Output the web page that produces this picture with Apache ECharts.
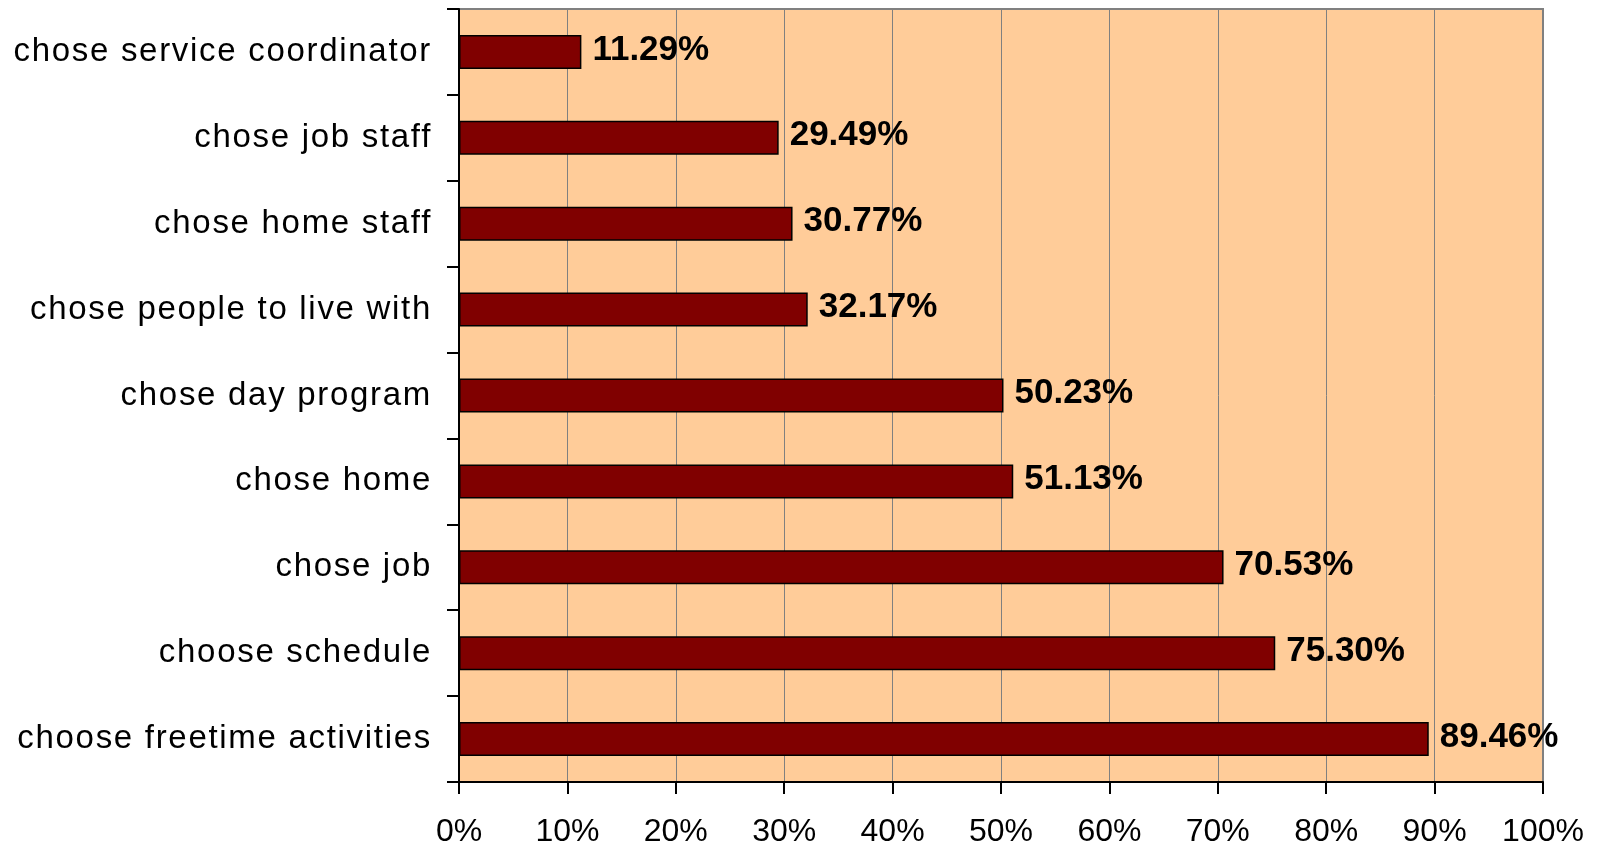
<!DOCTYPE html>
<html>
<head>
<meta charset="utf-8">
<script src="https://cdn.jsdelivr.net/npm/echarts@6/dist/echarts.min.js"></script>
<style>
html,body{margin:0;padding:0;background:#fff;}
#chart{width:1598px;height:848px;}
</style>
</head>
<body>
<div id="chart"></div>
<script>
const categories = [
  'chose service coordinator',
  'chose job staff',
  'chose home staff',
  'chose people to live with',
  'chose day program',
  'chose home',
  'chose job',
  'choose schedule',
  'choose freetime activities'
];
const values = [11.29, 29.49, 30.77, 32.17, 50.23, 51.13, 70.53, 75.30, 89.46];
const xTicks = [0, 10, 20, 30, 40, 50, 60, 70, 80, 90, 100];

const FONT = '"Liberation Sans", Arial, sans-serif';
const chart = echarts.init(document.getElementById('chart'), null, {renderer: 'canvas'});
const option = {
  animation: false,
  backgroundColor: '#ffffff',
  grid: {
    left: 459, right: 55, top: 9, bottom: 65,
    show: true, backgroundColor: '#FFCC99', borderColor: '#808080', borderWidth: 2
  },
  xAxis: {
    type: 'value',
    min: xTicks[0], max: xTicks[xTicks.length - 1], interval: 10,
    axisLine: {show: true, lineStyle: {color: '#000', width: 2}},
    axisTick: {show: true, length: 12, lineStyle: {color: '#000', width: 2}},
    splitLine: {show: true, lineStyle: {color: '#808080', width: 1}},
    axisLabel: {
      margin: 34, color: '#000', fontSize: 32, fontFamily: FONT,
      formatter: v => v + '%'
    }
  },
  yAxis: {
    type: 'category',
    data: categories,
    inverse: true,
    zlevel: 1,
    axisLine: {show: true, lineStyle: {color: '#000', width: 2}},
    axisTick: {show: true, length: 12, lineStyle: {color: '#000', width: 2}},
    splitLine: {show: false},
    axisLabel: {
      margin: 27, color: '#000', fontSize: 33, fontFamily: FONT, interval: 0
    }
  },
  series: [{
    type: 'bar',
    data: values,
    barWidth: 34,
    itemStyle: {color: '#800000', borderColor: '#000', borderWidth: 1.5},
    label: {
      show: true, position: 'right', distance: 11, offset: [0, -2],
      color: '#000', fontSize: 35, fontWeight: 'bold', fontFamily: FONT,
      formatter: p => p.value.toFixed(2) + '%'
    }
  }]
};
chart.setOption(option);
try {
  const painter = chart.getZr().painter;
  const layer = painter.getLayer(1);
  if (layer && layer.ctx && ('letterSpacing' in layer.ctx)) {
    layer.ctx.letterSpacing = '1.7px';
    painter.refresh(true);
  } else {
    option.yAxis.axisLabel.fontSize = 35;
    chart.setOption(option);
  }
} catch (e) {}
</script>
</body>
</html>
